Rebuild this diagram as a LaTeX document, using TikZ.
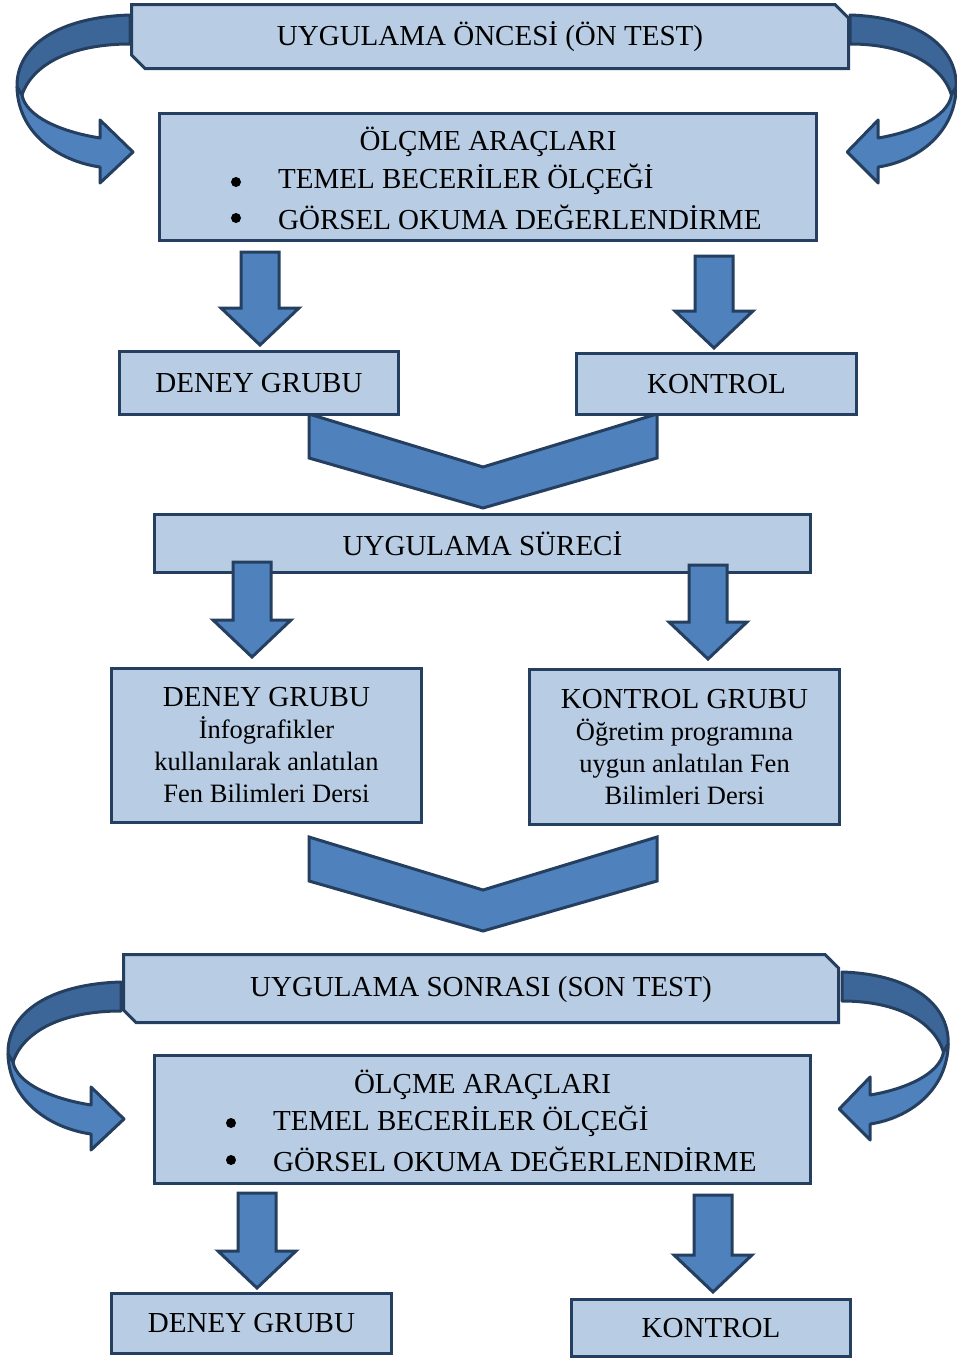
\documentclass[tikz,border=0pt]{standalone}
\usepackage{fontspec}
\setmainfont{Liberation Serif}
\usepackage{tikz}
\usepackage{xcolor}
\usetikzlibrary{positioning}

\definecolor{boxfill}{HTML}{B8CCE4}
\definecolor{boxline}{HTML}{243F60}
\definecolor{arrowfill}{HTML}{4F81BD}
\definecolor{ribbondark}{HTML}{3D6698}

\newcommand{\mainsize}{\fontsize{29}{35}\selectfont}
\newcommand{\subsize}{\fontsize{26.5}{31}\selectfont}

\tikzset{
  box/.style={draw=boxline, fill=boxfill, line width=3pt, inner sep=0pt,
    font=\mainsize, align=center},
  label/.style={inner sep=0pt, font=\mainsize},
  dot/.style={circle, fill=black, minimum size=10pt, inner sep=0pt},
  blockarrow/.style={draw=boxline, fill=arrowfill, line width=3pt, line join=miter},
  ribbon/.style={draw=boxline, line width=3pt, line join=round}
}

\begin{document}
\begin{tikzpicture}[x=1pt, y=-1pt]
\useasboundingbox (0,0) rectangle (956,1360);

% ========== curved arrows (behind the test boxes) ==========
\foreach \sx/\sy/\sc in {130/15/1, 850/15/-0.94, 121/982/1, 842/972/-0.94} {
  \begin{scope}[shift={(\sx,\sy)}, xscale=\sc]
    % back side of the ribbon
    \filldraw[ribbon, fill=ribbondark] (0,0) .. controls (-70,2) and (-114,30) .. (-113,72)
      -- (-108,80) .. controls (-98,50) and (-60,29) .. (0,29) -- cycle;
    % front side with head
    \filldraw[ribbon, fill=arrowfill] (-113,72) .. controls (-112,118) and (-72,146) .. (-30,152)
      -- (-30,168) -- (3,137) -- (-30,105) -- (-30,123)
      .. controls (-68,117) and (-104,102) .. (-108,80) -- cycle;
  \end{scope}
}

% ========== chevrons ==========
\foreach \t in {414, 837} {
  \filldraw[blockarrow] (309,\t) -- (483,\t+53) -- (657,\t) -- (657,\t+44)
    -- (483,\t+94) -- (309,\t+44) -- cycle;
}

% ========== before ==========
% snipped corners: top right and bottom left
\filldraw[box] (131.5,4.5) -- (835,4.5) -- (848.5,18) -- (848.5,68.5) -- (145,68.5) -- (131.5,55) -- cycle;
\node[label] (pre) at (490,37) {UYGULAMA ÖNCESİ (ÖN TEST)};

\node[box, minimum width=657pt, minimum height=127pt] (olc1) at (488,177) {};
\node[label] (olc1t) at (488,142) {ÖLÇME ARAÇLARI};
\node[dot] (bul1a) at (236,182) {};
\node[dot] (bul1b) at (236,218) {};
\node[label, anchor=west] (olc1a) at (278,179) {TEMEL BECERİLER ÖLÇEĞİ};
\node[label, anchor=west] (olc1b) at (278,217) {GÖRSEL OKUMA DEĞERLENDİRME};

\node[box, minimum width=279pt, minimum height=63pt] (deney1) at (259,383) {DENEY GRUBU};
\node[box, minimum width=280pt, minimum height=61pt] (kontrol1) at (716.5,384) {KONTROL};

% ========== process ==========
\node[box, minimum width=656pt, minimum height=58pt] (surec) at (482.5,543.5) {UYGULAMA SÜRECİ};

\node[box, minimum width=310pt, minimum height=154pt] (deney2) at (266.5,745.5)
  {DENEY GRUBU\\[-3pt] {\subsize İnfografikler}\\[-3pt]
   {\subsize kullanılarak anlatılan}\\[-3pt] {\subsize Fen Bilimleri Dersi}};
\node[box, minimum width=310pt, minimum height=155pt] (kontrol2) at (684.5,747)
  {KONTROL GRUBU\\[-3pt] {\subsize Öğretim programına}\\[-3pt]
   {\subsize uygun anlatılan Fen}\\[-3pt] {\subsize Bilimleri Dersi}};

% ========== after ==========
\filldraw[box] (123.5,954.5) -- (825,954.5) -- (838.5,968) -- (838.5,1022.5) -- (136,1022.5) -- (123.5,1010) -- cycle;
\node[label] (post) at (481,990) {UYGULAMA SONRASI (SON TEST)};

\node[box, minimum width=656pt, minimum height=128pt] (olc2) at (482.5,1119.5) {};
\node[label] (olc2t) at (482.5,1085) {ÖLÇME ARAÇLARI};
\node[dot] (bul2a) at (231,1123) {};
\node[dot] (bul2b) at (231,1160) {};
\node[label, anchor=west] (olc2a) at (273,1121) {TEMEL BECERİLER ÖLÇEĞİ};
\node[label, anchor=west] (olc2b) at (273,1159) {GÖRSEL OKUMA DEĞERLENDİRME};

\node[box, minimum width=280pt, minimum height=60pt] (deney3) at (251.5,1323.5) {DENEY GRUBU};
\node[box, minimum width=279pt, minimum height=57pt] (kontrol3) at (711,1328) {KONTROL};

% ========== down arrows ==========
\foreach \x/\t/\b in {260/252/345, 714/256/348, 252/562/657, 708/565/659, 257/1193/1288, 713/1195/1292} {
  \filldraw[blockarrow] (\x-19,\t) -- (\x+19,\t) -- (\x+19,\b-37) -- (\x+39,\b-37)
    -- (\x,\b) -- (\x-39,\b-37) -- (\x-19,\b-37) -- cycle;
}

\end{tikzpicture}
\end{document}
